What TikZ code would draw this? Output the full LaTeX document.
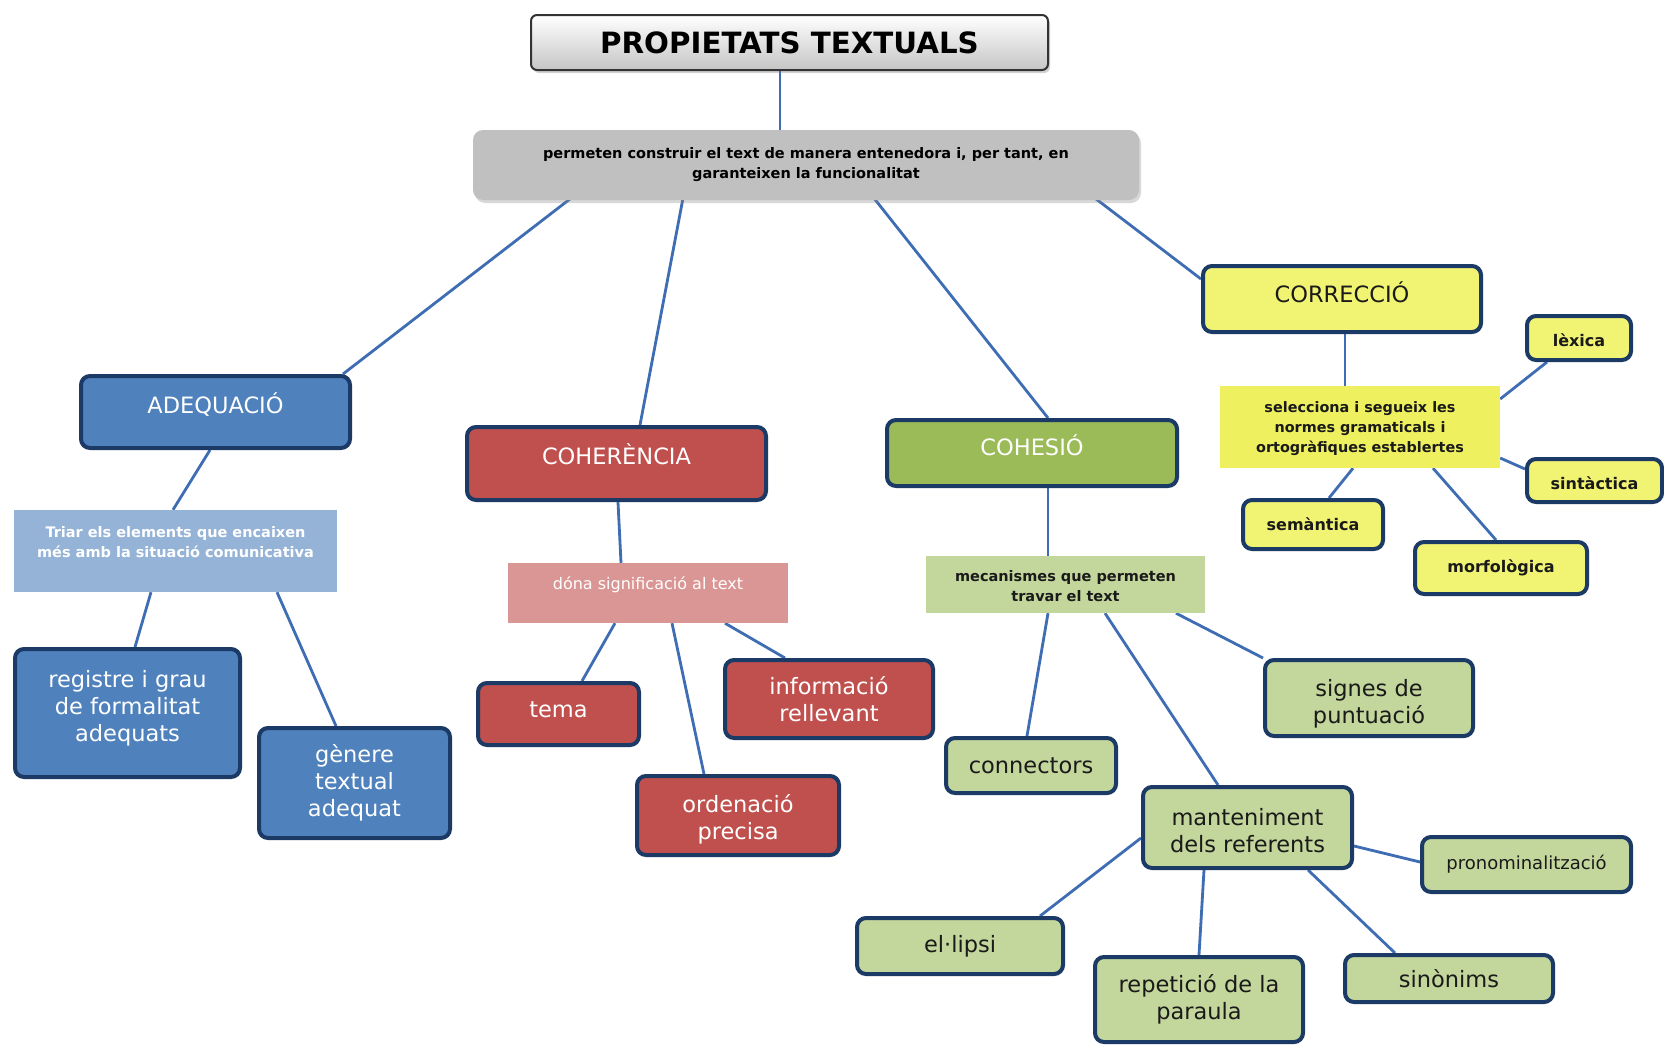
\documentclass[tikz,border=0pt]{standalone}
\usepackage{fontspec}
\setmainfont{DejaVu Sans}
\usetikzlibrary{calc,shadows,backgrounds}
\definecolor{navy}{HTML}{1B3A66}
\definecolor{linkc}{HTML}{3E6DB3}
\definecolor{bluefill}{HTML}{4F81BD}
\definecolor{lightblue}{HTML}{95B3D7}
\definecolor{redfill}{HTML}{C0504D}
\definecolor{pinkfill}{HTML}{DA9694}
\definecolor{greenfill}{HTML}{9BBB59}
\definecolor{lightgreen}{HTML}{C3D69B}
\definecolor{yellowfill}{HTML}{F1F473}
\definecolor{yellowbox}{HTML}{EEF060}
\definecolor{grayfill}{HTML}{C0C0C0}
\definecolor{darktext}{HTML}{1A1A1A}
\newcommand{\rtx}[2]{\raisebox{#1}[\height][\depth]{\begin{tabular}{@{}c@{}}#2\end{tabular}}}
\tikzset{
  box/.style={draw=navy, line width=4pt, rounded corners=9pt, align=center, inner sep=2pt},
  bigtext/.style={font=\fontsize{22.5}{27}\selectfont},
  headtext/.style={font=\fontsize{22.5}{27}\selectfont},
  smallbold/.style={font=\bfseries\fontsize{16}{20}\selectfont},
  bluebox/.style={box, fill=bluefill, text=white, bigtext},
  redbox/.style={box, fill=redfill, text=white, bigtext},
  greenbox/.style={box, fill=greenfill, text=white, headtext},
  lgreenbox/.style={box, fill=lightgreen, text=darktext, bigtext},
  yellowleaf/.style={box, fill=yellowfill, text=darktext, smallbold},
  flatbox/.style={align=center, inner sep=2pt},
  link/.style={draw=linkc, line width=2.8pt},
  titlebox/.style={draw=black!80, line width=2pt, rounded corners=6pt, top color=white, bottom color=gray!45,
     font=\bfseries\fontsize{29.3}{34}\selectfont, drop shadow={opacity=0.35, shadow xshift=2pt, shadow yshift=-3pt}},
  graybox/.style={fill=grayfill, rounded corners=10pt, align=center, font=\bfseries\fontsize{14.5}{20}\selectfont,
     drop shadow={opacity=0.3, shadow xshift=2pt, shadow yshift=-3pt}}
}
\begin{document}
\begin{tikzpicture}[x=1pt, y=-1pt]
\useasboundingbox (0,0) rectangle (1664,1044);

% title and top box
\node[titlebox, minimum width=517, minimum height=55] (title) at (789.5,42.5) {PROPIETATS TEXTUALS};
\node[graybox, minimum width=666, minimum height=70] (gray) at (806,165)
  {permeten construir el text de manera entenedora i, per tant, en\\ garanteixen la funcionalitat};

% ADEQUACIO
\node[bluebox, minimum width=269, minimum height=72] (adeq) at (215.5,412) {\rtx{5.3pt}{ADEQUACIÓ}};
\node[flatbox, fill=lightblue, text=white, font=\bfseries\fontsize{14.5}{20}\selectfont,
      minimum width=323, minimum height=82] (triar) at (175.5,551)
  {\rtx{7.4pt}{Triar els elements que encaixen\\ més amb la situació comunicativa}};
\node[bluebox, minimum width=225, minimum height=128] (reg) at (127.5,713) {\rtx{4.2pt}{registre i grau\\ de formalitat\\ adequats}};
\node[bluebox, minimum width=191, minimum height=110] (gen) at (354.5,783) {gènere\\ textual\\ adequat};

% COHERENCIA
\node[redbox, minimum width=299, minimum height=73] (coh) at (616.5,463.5) {\rtx{5.3pt}{COHERÈNCIA}};
\node[flatbox, fill=pinkfill, text=white, font=\fontsize{16}{20}\selectfont,
      minimum width=280, minimum height=60] (dona) at (648,593) {\rtx{7.4pt}{dóna significació al text}};
\node[redbox, minimum width=161, minimum height=62] (tema) at (558.5,714) {\rtx{2pt}{tema}};
\node[redbox, minimum width=208, minimum height=78] (info) at (829,699) {informació\\ rellevant};
\node[redbox, minimum width=202, minimum height=79] (ord) at (738,815.5) {\rtx{-4.8pt}{ordenació\\ precisa}};

% COHESIO
\node[greenbox, minimum width=290, minimum height=66] (cohs) at (1032,453) {\rtx{4.2pt}{COHESIÓ}};
\node[flatbox, fill=lightgreen, text=darktext, font=\bfseries\fontsize{14.5}{20}\selectfont,
      minimum width=279, minimum height=57] (mec) at (1065.5,584.5) {\rtx{-2.5pt}{mecanismes que permeten\\ travar el text}};
\node[lgreenbox, minimum width=170, minimum height=55] (conn) at (1031,765.5) {connectors};
\node[lgreenbox, minimum width=208, minimum height=76] (sig) at (1369,698) {\rtx{-6.4pt}{signes de\\ puntuació}};
\node[lgreenbox, minimum width=209, minimum height=81] (mant) at (1247.5,827.5) {\rtx{-5.6pt}{manteniment\\ dels referents}};
\node[lgreenbox, font=\fontsize{18}{22}\selectfont, minimum width=209, minimum height=55] (pron) at (1526.5,864.5) {pronominalització};
\node[lgreenbox, minimum width=206, minimum height=56] (ell) at (960,946) {el·lipsi};
\node[lgreenbox, minimum width=208, minimum height=85] (rep) at (1199,999.5) {repetició de la\\ paraula};
\node[lgreenbox, minimum width=208, minimum height=47] (sin) at (1449,978.5) {sinònims};

% CORRECCIO
\node[box, fill=yellowfill, text=darktext, headtext, minimum width=278, minimum height=66] (corr) at (1342,299) {\rtx{3.2pt}{CORRECCIÓ}};
\node[flatbox, fill=yellowbox, text=darktext, font=\bfseries\fontsize{14.4}{20}\selectfont,
      minimum width=280, minimum height=82] (sel) at (1360,427)
  {\rtx{-1pt}{selecciona i segueix les\\ normes gramaticals i\\ ortogràfiques establertes}};
\node[yellowleaf, minimum width=104, minimum height=44] (lex) at (1579,338) {\rtx{-4pt}{lèxica}};
\node[yellowleaf, minimum width=135, minimum height=43] (sint) at (1594.5,480.5) {\rtx{-5pt}{sintàctica}};
\node[yellowleaf, minimum width=140, minimum height=49] (sem) at (1313,524.5) {semàntica};
\node[yellowleaf, minimum width=172, minimum height=52] (morf) at (1501,568) {morfològica};

\begin{scope}[on background layer]
\fill[white] (0,0) rectangle (1664,1044);
\draw[link] ($(title.south)+(-9.5,0)$) -- ($(gray.north)+(-26,0)$);
\draw[link] ($(gray.south)+(-235,-2)$) -- ($(adeq.north)+(127.5,0)$);
\draw[link] ($(gray.south)+(-123,-2)$) -- ($(coh.north)+(23.5,0)$);
\draw[link] ($(gray.south)+(68,-2)$) -- ($(cohs.north)+(16,0)$);
\draw[link] ($(gray.south)+(289,-2)$) -- ($(corr.west)+(0,-20)$);
\draw[link] ($(adeq.south)+(-5.5,0)$) -- ($(triar.north)+(-2.5,0)$);
\draw[link] ($(triar.south)+(-24.5,0)$) -- ($(reg.north)+(7.5,0)$);
\draw[link] ($(triar.south)+(101.5,0)$) -- ($(gen.north)+(-18.5,0)$);
\draw[link] ($(coh.south)+(1.5,0)$) -- ($(dona.north)+(-27,0)$);
\draw[link] ($(dona.south)+(-33,0)$) -- ($(tema.north)+(23.5,0)$);
\draw[link] ($(dona.south)+(77,0)$) -- ($(info.north)+(-44,0)$);
\draw[link] ($(dona.south)+(24,0)$) -- ($(ord.north)+(-34,0)$);
\draw[link] ($(cohs.south)+(16,0)$) -- ($(mec.north)+(-17.5,0)$);
\draw[link] ($(mec.south)+(-17.5,0)$) -- ($(conn.north)+(-4,0)$);
\draw[link] ($(mec.south)+(110.5,0)$) -- (sig.north west);
\draw[link] ($(mec.south)+(39.5,0)$) -- ($(mant.north)+(-29.5,0)$);
\draw[link] ($(mant.east)+(0,18.5)$) -- ($(pron.west)+(0,-2.5)$);
\draw[link] ($(mant.west)+(0,10.5)$) -- ($(ell.north)+(80,0)$);
\draw[link] ($(mant.south)+(-43.5,0)$) -- (rep.north);
\draw[link] ($(mant.south)+(60.5,0)$) -- ($(sin.north)+(-54,0)$);
\draw[link] ($(corr.south)+(3,0)$) -- ($(sel.north)+(-15,0)$);
\draw[link] ($(sel.east)+(0,-28)$) -- ($(lex.south)+(-32,0)$);
\draw[link] ($(sel.east)+(0,31)$) -- ($(sint.west)+(0,-11.5)$);
\draw[link] ($(sel.south)+(-7,0)$) -- ($(sem.north)+(16,0)$);
\draw[link] ($(sel.south)+(73,0)$) -- ($(morf.north)+(-5,0)$);
\end{scope}
\end{tikzpicture}
\end{document}
